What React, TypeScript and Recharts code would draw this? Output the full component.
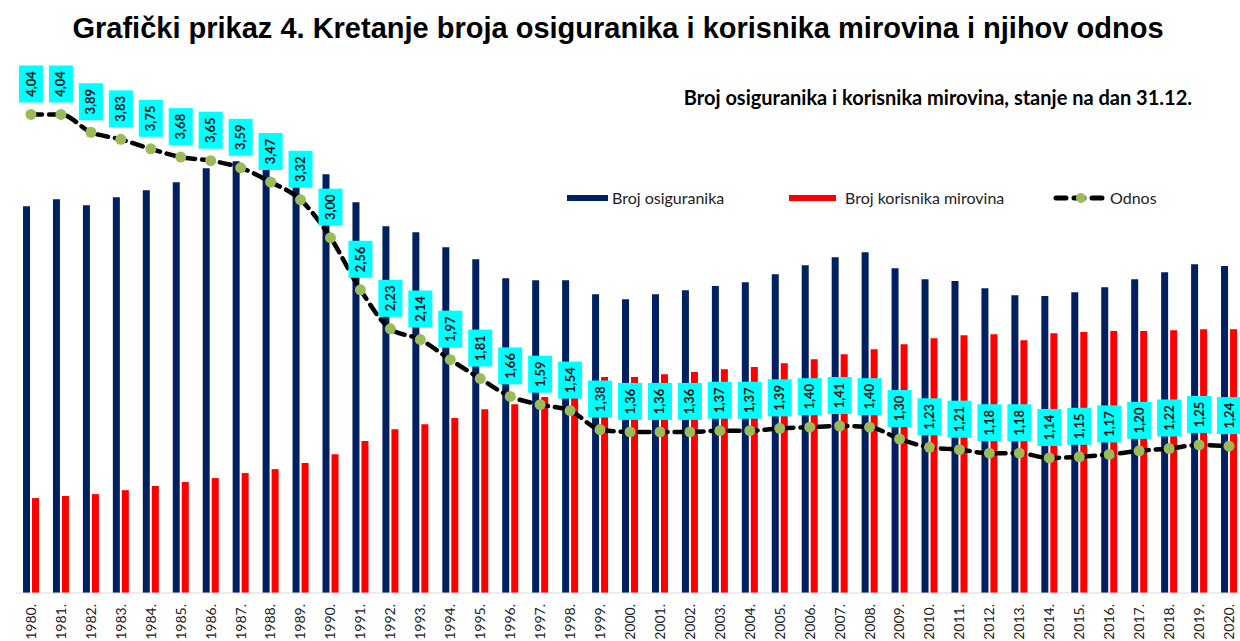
import React from "react";
import {
  ComposedChart,
  Bar,
  Line,
  XAxis,
  YAxis,
  LabelList,
} from "recharts";

const years = [
  "1980.", "1981.", "1982.", "1983.", "1984.", "1985.", "1986.", "1987.", "1988.", "1989.",
  "1990.", "1991.", "1992.", "1993.", "1994.", "1995.", "1996.", "1997.", "1998.", "1999.",
  "2000.", "2001.", "2002.", "2003.", "2004.", "2005.", "2006.", "2007.", "2008.", "2009.",
  "2010.", "2011.", "2012.", "2013.", "2014.", "2015.", "2016.", "2017.", "2018.", "2019.",
  "2020.",
];

// broj osiguranika (tisuće)
const insured = [
  1858, 1891, 1862, 1901, 1934, 1973, 2040, 2074, 2059, 2069,
  2011, 1877, 1762, 1733, 1661, 1603, 1512, 1502, 1502, 1435,
  1411, 1435, 1454, 1474, 1493, 1531, 1574, 1613, 1637, 1560,
  1507, 1498, 1464, 1430, 1426, 1445, 1469, 1507, 1541, 1579,
  1570,
];

// broj korisnika mirovina (tisuće)
const pensioners = [
  456, 466, 475, 494, 514, 533, 552, 576, 595, 624,
  667, 730, 787, 811, 840, 883, 907, 941, 974, 1037,
  1037, 1051, 1061, 1075, 1085, 1104, 1123, 1147, 1171, 1195,
  1224, 1238, 1243, 1214, 1248, 1253, 1258, 1258, 1262, 1267,
  1267,
];

const ratio = [
  4.04, 4.04, 3.89, 3.83, 3.75, 3.68, 3.65, 3.59, 3.47, 3.32,
  3.0, 2.56, 2.23, 2.14, 1.97, 1.81, 1.66, 1.59, 1.54, 1.38,
  1.36, 1.36, 1.36, 1.37, 1.37, 1.39, 1.4, 1.41, 1.4, 1.3,
  1.23, 1.21, 1.18, 1.18, 1.14, 1.15, 1.17, 1.2, 1.22, 1.25,
  1.24,
];

const data = years.map((year, i) => ({
  year,
  insured: insured[i],
  pensioners: pensioners[i],
  ratio: ratio[i],
}));

const NAVY = "#002060";
const RED = "#FF0000";
const DOT = "#9BBB59";
const CYAN = "#00FFFF";
const FONT = "Lato, 'Open Sans', sans-serif";

function YearTick(props: any) {
  const { x, payload } = props;
  const y = 604;
  return (
    <text
      x={x}
      y={y}
      dy="0.35em"
      transform={`rotate(-90 ${x} ${y})`}
      textAnchor="end"
      fontFamily={FONT}
      fontSize={14}
      fill="#222"
    >
      {payload.value}
    </text>
  );
}

function RatioLabel(props: any) {
  const { x, y, value } = props;
  const w = 24;
  const h = 37;
  const bottom = y - 12;
  const cy = bottom - h / 2;
  return (
    <g>
      <rect x={x - w / 2} y={bottom - h} width={w} height={h} fill={CYAN} />
      <text
        x={x}
        y={cy}
        dy="0.35em"
        transform={`rotate(-90 ${x} ${cy})`}
        textAnchor="middle"
        fontFamily={FONT}
        fontWeight={700}
        fontSize={13}
        fill="#111"
      >
        {Number(value).toFixed(2).replace(".", ",")}
      </text>
    </g>
  );
}

function ChartLegend() {
  const textStyle: React.CSSProperties = {
    position: "absolute",
    top: 0,
    fontFamily: FONT,
    fontSize: 16,
    lineHeight: "20px",
    color: "#222",
    whiteSpace: "nowrap",
  };
  return (
    <div style={{ position: "absolute", top: 188, left: 567, width: 620, height: 20 }}>
      <div style={{ position: "absolute", left: 0, top: 7, width: 41, height: 6, background: NAVY }} />
      <div style={{ ...textStyle, left: 45 }}>Broj osiguranika</div>
      <div style={{ position: "absolute", left: 222, top: 7, width: 47, height: 6, background: RED }} />
      <div style={{ ...textStyle, left: 278 }}>Broj korisnika mirovina</div>
      <svg style={{ position: "absolute", left: 486, top: 0 }} width={52} height={20}>
        <line x1={3} y1={10} x2={49} y2={10} stroke="#000" strokeWidth={5} strokeDasharray="10 8" strokeLinecap="round" />
        <circle cx={28} cy={10} r={5} fill={DOT} />
      </svg>
      <div style={{ ...textStyle, left: 543 }}>Odnos</div>
    </div>
  );
}

export default function App() {
  return (
    <div style={{ position: "relative", width: 1240, height: 641, overflow: "hidden", background: "#fff" }}>
      <style>{`body{margin:0}`}</style>
      <ComposedChart
        width={1244}
        height={641}
        data={data}
        margin={{ top: 60, right: 0, left: 16, bottom: 0 }}
        barSize={7}
        barGap={2}
      >
        <XAxis
          dataKey="year"
          interval={0}
          height={48}
          tickLine={false}
          axisLine={{ stroke: "#d9d9d9" }}
          tick={<YearTick />}
        />
        <YAxis yAxisId="bars" hide domain={[0, 2560]} />
        <YAxis yAxisId="ratio" hide orientation="right" domain={[0, 4.5]} />
        <Bar yAxisId="bars" dataKey="insured" name="Broj osiguranika" fill={NAVY} isAnimationActive={false} />
        <Bar yAxisId="bars" dataKey="pensioners" name="Broj korisnika mirovina" fill={RED} isAnimationActive={false} />
        <Line
          yAxisId="ratio"
          dataKey="ratio"
          name="Odnos"
          type="monotone"
          stroke="#000"
          strokeWidth={4.5}
          strokeDasharray="11 7"
          strokeLinecap="round"
          dot={{ r: 5.5, fill: DOT, stroke: DOT, strokeWidth: 0, strokeDasharray: "" }}
          activeDot={false}
          isAnimationActive={false}
        >
          <LabelList dataKey="ratio" content={<RatioLabel />} />
        </Line>
      </ComposedChart>
      <div
        style={{
          position: "absolute",
          top: 11,
          left: 0,
          width: 1236,
          textAlign: "center",
          fontFamily: "'Liberation Sans', Arial, sans-serif",
          fontWeight: 700,
          fontSize: 29,
          lineHeight: "34px",
          color: "#000",
        }}
      >
        Grafički prikaz 4. Kretanje broja osiguranika i korisnika mirovina i njihov odnos
      </div>
      <div
        style={{
          position: "absolute",
          top: 84,
          right: 48,
          fontFamily: FONT,
          fontWeight: 700,
          fontSize: 20,
          lineHeight: "26px",
          color: "#000",
          whiteSpace: "nowrap",
        }}
      >
        Broj osiguranika i korisnika mirovina, stanje na dan 31.12.
      </div>
      <ChartLegend />
    </div>
  );
}
